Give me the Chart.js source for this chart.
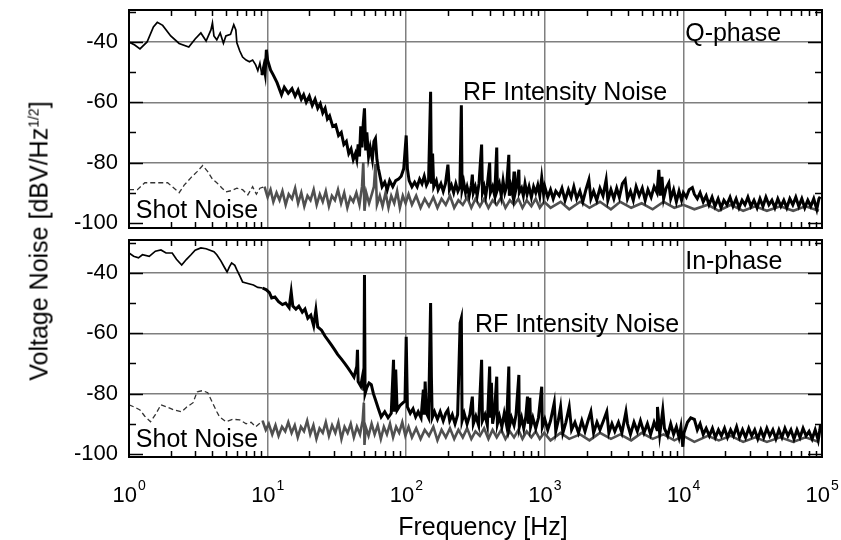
<!DOCTYPE html>
<html>
<head>
<meta charset="utf-8">
<script src="https://cdn.jsdelivr.net/npm/chart.js@4.4.1/dist/chart.umd.min.js"></script>
<style>
  body { margin: 0; background: #fff; }
  #wrap { position: relative; width: 841px; height: 540px; overflow: hidden; font-family: "Liberation Sans", Arial, sans-serif; }
  canvas { position: absolute; left: 0; }
  #top { top: 0; }
  #bottom { top: 234px; }
  .title { position: absolute; white-space: nowrap; font-size: 25px; color: #000; transform: translate(-50%, -50%); }
  #ytitle { left: 39px; top: 241px; transform: translate(-50%, -50%) rotate(-90deg); }
  #ytitle sup { font-size: 14px; }
  #xtitle { left: 483px; top: 526px; }
</style>
</head>
<body>
<div id="wrap">
  <canvas id="top" width="841" height="234"></canvas>
  <canvas id="bottom" width="841" height="306"></canvas>
  <div class="title" id="ytitle">Voltage Noise [dBV/Hz<sup>1/2</sup>]</div>
  <div class="title" id="xtitle">Frequency [Hz]</div>
</div>
<script>
// tick values
const decades = [1, 10, 100, 1000, 10000, 100000];
const decadeExp = ['0', '1', '2', '3', '4', '5'];
const dbTicks = [-100, -80, -60, -40];

// Q-phase: RF intensity noise [Hz, dB]
const qNoise = [
  [1,-40],[1.1,-41],[1.2,-42.3],[1.35,-40],[1.5,-35],[1.6,-33.5],[1.75,-34.5],[2,-38],[2.3,-40.5],[2.7,-41.7],
  [3,-39],[3.3,-37],[3.6,-39.7],[3.9,-36],[4,-33.7],[4.1,-38],[4.3,-39.3],[4.55,-37],[4.8,-40.4],[5,-38],
  [5.4,-37.5],[5.7,-34.3],[5.9,-36],[6,-40.3],[6.3,-43],[6.6,-45],[7,-46],[7.4,-46.6],[7.8,-46],[8.2,-47.6],
  [8.5,-49.5],[8.8,-47],[9.1,-51],[9.4,-48],[9.6,-50.5],[9.8,-42.6],[10,-46],[10.5,-49.3],[11,-51],[11.7,-53.5],
  [12.6,-57.5],[13.2,-55],[14.1,-57],[15,-55.5],[15.8,-58],[16.6,-56],[17.5,-59],[18.2,-57.5],[19,-60],[20,-58],
  [21,-61],[22,-59],[23,-62],[24,-60.5],[25,-63.5],[26,-62],[27,-65.5],[28,-64.5],[29.5,-68],[31,-67.5],
  [32.5,-71],[34,-70],[35.5,-74],[37,-73],[38.5,-77],[40,-75.5],[41.5,-79],[43,-77],[44,-79],[45,-74],
  [46,-78],[47,-68],[48,-75],[49,-67],[50,-62],[51,-76],[52,-70],[53.5,-78],[55,-75],[57,-79],
  [58.5,-73],[60,-72],[61.5,-79],[63,-82],[65,-85],[67,-88],[70,-86.5],[73,-89],[76,-86],[80,-88],
  [84,-86],[88,-85.5],[92,-84.5],[96,-82],[100,-71],[102,-82],[105,-86],[110,-88],[115,-86.5],[120,-88],
  [125,-85.5],[130,-87],[135,-84.5],[140,-87.5],[145,-86],[150,-56.5],[152,-87],[155,-77],[158,-88],[165,-86],
  [170,-89],[178,-87],[185,-89.5],[192,-87],[200,-80.7],[205,-89],[212,-87.5],[220,-90],[228,-87],[236,-89.5],
  [244,-88],[250,-61],[253,-89],[260,-86.5],[268,-90],[275,-88],[285,-91],[295,-87.5],[300,-84],[305,-90],
  [315,-88],[325,-91],[335,-87],[350,-74],[355,-90],[365,-88],[375,-91],[385,-87.5],[400,-80],[405,-90],
  [420,-88],[435,-91],[450,-75],[455,-89],[470,-87],[485,-91],[500,-86],[515,-90],[530,-88],[550,-77.4],
  [555,-91],[570,-88],[585,-90.5],[600,-83],[605,-91],[625,-88],[650,-82.4],[655,-90],[680,-88.5],[700,-91],
  [720,-87],[745,-90.5],[770,-88],[800,-91.5],[830,-88],[860,-90],[890,-87.5],[920,-91],[950,-85],[980,-90.5],
  [1000,-88],[1050,-91.5],[1100,-89],[1150,-92],[1200,-89.5],[1270,-91],[1330,-88.5],[1400,-92.5],[1480,-89],[1550,-91.5],
  [1620,-88],[1700,-92],[1790,-89.5],[1880,-93],[1980,-89],[2080,-85.7],[2150,-92],[2250,-89.5],[2370,-92.5],[2500,-88.5],
  [2630,-91],[2770,-85.7],[2850,-92.5],[3000,-89],[3150,-92],[3300,-88.5],[3450,-91.5],[3630,-87],[3800,-85.7],[3950,-92],
  [4150,-89.5],[4350,-92.5],[4560,-88],[4800,-91],[5050,-88.5],[5300,-92.5],[5550,-89],[5850,-91.5],[6150,-88],[6450,-90],
  [6650,-82.4],[6800,-91],[7000,-84.7],[7200,-92],[7500,-88.5],[7850,-86.7],[8100,-92],[8500,-89],[8900,-93],[9300,-89.5],
  [9700,-92.5],[10000,-90],[10500,-91.5],[11000,-89],[11600,-88.3],[12000,-90.5],[12600,-92],[13200,-90],[13900,-93],[14600,-91],
  [15300,-94],[16100,-91.5],[16900,-94.5],[17800,-92],[18700,-95],[19600,-92.5],[20600,-94],[21700,-91.5],[22800,-94.5],[24000,-92],
  [25200,-95],[26500,-92.5],[27800,-94],[29200,-91.5],[30700,-94.5],[32300,-92.5],[34000,-95],[35700,-92],[37500,-94.5],[39400,-91.5],
  [41400,-94],[43500,-92.5],[45700,-95],[48000,-92],[50500,-94.5],[53000,-92.5],[55700,-95],[58600,-92],[61600,-94],[64700,-91.5],
  [68000,-94.5],[71500,-92],[75100,-95],[79000,-92.5],[83000,-94.5],[87200,-92],[91700,-95.5],[95000,-92],[97000,-91.3]
];

// Q-phase: shot noise, low-frequency dashed part and noisy part [Hz, dB]
const qShotLow = [
  [1,-89],[1.15,-89],[1.3,-86.7],[1.6,-86.7],[1.9,-86.7],[2.05,-88],[2.3,-90],[2.5,-87.5],[2.8,-85],[3.1,-83],
  [3.4,-81],[3.7,-83],[4,-85.5],[4.3,-86.7],[4.7,-88.5],[5,-89.7],[5.5,-89.3],[6,-88.5],[6.6,-89],[7.2,-90.7],
  [7.8,-88],[8.3,-90.5],[8.8,-88.5],[9.5,-88]
];
const qShot = [
  [9.5,-88],[10,-91.5],[10.5,-89],[11,-93],[11.6,-90],[12.2,-92.5],[12.8,-89.5],[13.5,-94],[14.2,-90.5],[15,-92],
  [15.8,-88.5],[16.6,-93.5],[17.5,-90],[18.4,-94.5],[19.4,-91],[20.4,-92.5],[21.5,-89],[22.6,-94],[23.8,-90.5],[25,-93],
  [26.3,-89.5],[27.7,-94.5],[29.1,-91],[30.6,-92.5],[32.2,-89],[33.9,-93.5],[35.7,-90],[37.6,-95],[39.5,-91.5],[41.5,-93],
  [43.7,-90],[46,-94],[48,-88],[49,-80],[50,-96],[51.5,-90],[54,-93.5],[56.5,-90.5],[58.5,-88],[60,-80.5],
  [61.5,-94],[64.5,-91],[67.5,-94.5],[71,-90],[74.5,-95],[78,-91],[82,-93.5],[86,-89.5],[90,-95],[94.5,-91],
  [99,-93.5],[104,-90.5],[110,-94],[118,-91],[127,-95],[136,-92],[146,-94.5],[157,-91.5],[168,-95],[180,-92],
  [193,-94],[207,-91],[222,-95],[238,-92.5],[256,-94],[275,-91.5],[295,-95],[316,-92],[340,-94.5],[365,-92],
  [392,-95],[420,-92.5],[450,-94],[485,-91.5],[520,-95],[560,-92.5],[600,-94],[645,-92],[690,-95],[740,-92.5],
  [800,-94.5],[860,-92],[920,-95],[990,-93],[1100,-95],[1300,-93],[1500,-95.5],[1800,-93],[2100,-95],[2500,-93],
  [3000,-95.5],[3500,-93],[4200,-95],[5000,-93.5],[6000,-95.5],[7200,-93],[8600,-95],[10000,-94],[12000,-95.5],[15000,-94],
  [18000,-96],[22000,-94],[27000,-96],[33000,-94.5],[40000,-96],[50000,-94.5],[62000,-96],[76000,-94.5],[95000,-96]
];

// In-phase: RF intensity noise [Hz, dB]
const iNoise = [
  [1,-33.4],[1.08,-34.5],[1.17,-35],[1.25,-34],[1.4,-34.5],[1.55,-32.8],[1.7,-32.4],[1.85,-33.4],[2.05,-33.4],[2.2,-35.5],
  [2.4,-37.4],[2.6,-35.5],[2.8,-34],[3,-32.5],[3.3,-31.7],[3.6,-32],[3.8,-32.4],[4.1,-33],[4.3,-34],[4.6,-36],
  [4.9,-38.3],[5.1,-39.7],[5.3,-38],[5.5,-36.7],[5.8,-37.5],[6,-39],[6.3,-41],[6.6,-43],[7.2,-43.5],[7.9,-44],
  [8.5,-44.8],[9.2,-45],[9.8,-45.6],[10.3,-46.5],[10.7,-48.3],[11.3,-48],[12,-49.5],[12.8,-50.5],[13.5,-50],[14.3,-51.5],
  [14.8,-46.3],[15.2,-51],[16,-52],[16.8,-51],[17.8,-53],[18.6,-52],[19.5,-55],[20.5,-54],[21.5,-57.5],[22.3,-52.3],
  [23,-57.9],[24.5,-59],[26,-61],[27.5,-62.5],[29,-64],[30.5,-65.5],[32,-67],[34,-68.5],[36,-70],[38,-71.5],
  [40,-73],[42,-74.5],[44,-71],[44.5,-65.5],[45,-76],[47,-77.5],[48.5,-74],[49.5,-79],[50,-40.7],[50.5,-80],
  [52,-78],[54,-76.5],[56,-77],[58,-80],[60,-82],[63,-85],[66,-87.7],[70,-86],[74,-88],[78,-86.5],
  [81,-68.8],[82,-86],[84,-72],[86,-85.5],[90,-84],[95,-83],[98,-82.5],[100,-61.2],[102,-84.4],[107,-86.5],
  [112,-85],[117,-87.7],[122,-86],[128,-88],[133,-78.7],[135,-87],[137,-76],[140,-86.5],[145,-88],[150,-50],
  [152,-74.4],[154,-88],[160,-86],[168,-88.5],[176,-86],[185,-89],[193,-86.5],[200,-85.4],[206,-89],[215,-87],
  [225,-90],[235,-87],[245,-56.6],[250,-55],[253,-89],[262,-86.5],[275,-90],[288,-87],[300,-81],[305,-90],
  [318,-87.5],[333,-90.5],[350,-68.8],[355,-89],[370,-87],[385,-90.5],[400,-71],[405,-88],[412,-76.4],[420,-90],
  [433,-86.5],[450,-74.4],[455,-90],[470,-87.5],[490,-91],[510,-86.5],[530,-90.5],[550,-71],[555,-91],[575,-88],
  [600,-90.5],[620,-87],[650,-73.8],[655,-91],[680,-88],[705,-91.5],[730,-87.5],[750,-81],[760,-90],[780,-81.4],
  [790,-91],[820,-88],[860,-91.5],[900,-88],[950,-77.7],[960,-91],[1000,-88.5],[1050,-92],[1100,-89],[1170,-83],
  [1200,-92.5],[1250,-89],[1300,-84.4],[1350,-93],[1420,-89.5],[1500,-84.4],[1560,-92],[1650,-89.5],[1750,-93],[1850,-89],
  [1950,-92.5],[2050,-89],[2150,-86],[2250,-93],[2380,-89.5],[2500,-92],[2650,-89],[2800,-86],[2900,-93],[3050,-90],
  [3200,-92.5],[3400,-89.5],[3600,-93],[3850,-86],[3950,-90],[4150,-93.5],[4400,-89.5],[4650,-92.5],[4900,-89],[5200,-93],
  [5500,-90],[5800,-93.5],[6150,-89.5],[6450,-92],[6500,-84.4],[6750,-93.5],[7100,-85.4],[7300,-91.5],[7700,-94],[8100,-90],
  [8500,-93.5],[8900,-91],[9300,-94.5],[9600,-91],[9900,-97.6],[10100,-93],[10700,-89.5],[11300,-88],[12000,-88.5],[12600,-92],
  [13200,-90],[13900,-93.5],[14600,-91.5],[15400,-94],[16200,-91.5],[17000,-94.5],[17900,-92],[18800,-94],[19800,-91.5],[20800,-94.5],
  [21900,-92],[23000,-94],[24200,-91],[25400,-94.5],[26700,-92],[28100,-94.5],[29600,-91.5],[31100,-94],[32700,-92],[34400,-95],
  [36200,-92],[38000,-94.5],[40000,-91.5],[42000,-94],[44200,-92],[46500,-95],[48900,-92],[51400,-94.5],[54000,-91.5],[56800,-94],
  [59700,-92],[62800,-95],[66000,-92],[69400,-94.5],[73000,-91.5],[76800,-94],[80700,-92.5],[84900,-95],[89300,-92],[93900,-95.5],
  [96500,-92],[97500,-90.3]
];

// In-phase: shot noise [Hz, dB]
const iShotLow = [
  [1,-83.7],[1.1,-84.5],[1.2,-85.4],[1.3,-87.5],[1.43,-89.3],[1.55,-87],[1.7,-83.7],[1.9,-84.5],[2.1,-85.4],[2.4,-86],
  [2.6,-84.5],[2.9,-83],[3.1,-79.4],[3.4,-79],[3.7,-79.7],[4,-83],[4.3,-86],[4.5,-87.7],[5,-89.3],[5.6,-88.5],
  [6.3,-88.7],[7,-90],[7.6,-89.5],[8.2,-91],[9.2,-89]
];
const iShot = [
  [9.2,-89],[9.7,-92],[10.2,-90],[10.8,-93.5],[11.4,-90.5],[12,-94],[12.7,-91],[13.4,-92.5],[14.1,-89.5],[14.9,-93],
  [15.7,-90.5],[16.5,-94.5],[17.4,-91],[18.3,-92.5],[19.3,-89],[20.3,-93.5],[21.4,-90.5],[22.5,-95],[23.7,-91.5],[25,-93],
  [26.3,-89.5],[27.7,-94],[29.2,-90.5],[30.8,-93],[32.4,-89.5],[34.1,-95],[35.9,-91],[37.8,-93],[39.8,-90],[41.9,-94.5],
  [44.1,-91],[46.4,-93.5],[48.5,-89],[49.5,-83],[50,-97],[51,-91],[53.5,-94],[56.3,-90],[59.2,-93.5],[62.3,-90.5],
  [65.6,-95],[69,-91],[72.6,-93.5],[76.4,-90],[80.4,-94.5],[84.6,-91],[89,-93],[93.7,-89.5],[98.6,-94],[104,-91],
  [110,-94.5],[118,-91.5],[127,-95],[136,-92],[146,-94],[157,-91],[168,-95.5],[180,-92],[193,-94.5],[207,-91.5],
  [222,-95],[238,-92],[256,-94.5],[275,-91.5],[295,-95],[316,-92.5],[340,-94],[365,-91.5],[392,-95],[420,-92],
  [450,-94.5],[485,-92],[520,-95],[560,-92.5],[600,-94.5],[645,-92],[690,-95],[740,-92.5],[800,-94.5],[860,-92.5],
  [920,-95],[990,-93],[1100,-95.5],[1300,-93],[1500,-95],[1800,-93.5],[2100,-95.5],[2500,-93],[3000,-95],[3500,-93.5],
  [4200,-95.5],[5000,-93],[6000,-95],[7200,-93.5],[8600,-95.5],[10000,-94],[12000,-96],[15000,-94],[18000,-95.5],[22000,-94],
  [27000,-96],[33000,-94.5],[40000,-96],[50000,-94.5],[62000,-96],[76000,-94.5],[95000,-96]
];

// text labels [text, Hz, dB]
const qLabels = [['Q-phase', 10300, -39.7], ['RF Intensity Noise', 257, -59.2], ['Shot Noise', 1.12, -98.3]];
const iLabels = [['In-phase', 10300, -38.7], ['RF Intensity Noise', 313, -59.5], ['Shot Noise', 1.12, -97.6]];

const FONT = '"Liberation Sans", Arial, sans-serif';
const GRID = '#7f7f7f';

function toXY(pairs) {
  return pairs.map(p => ({ x: p[0], y: p[1] }));
}

// box, inward ticks, annotations and decade labels
const framePlugin = {
  id: 'frame',
  afterDatasetsDraw(chart, args, opts) {
    const { ctx, chartArea: a, scales: { x, y } } = chart;
    ctx.save();
    ctx.strokeStyle = '#000';
    ctx.lineWidth = 1.5;
    ctx.beginPath();
    for (let d = 1; d < 1e5; d *= 10) {
      for (let m = 2; m <= 9; m++) {
        const px = Math.round(x.getPixelForValue(d * m)) + 0.5;
        ctx.moveTo(px, a.top); ctx.lineTo(px, a.top + 6);
        ctx.moveTo(px, a.bottom); ctx.lineTo(px, a.bottom - 6);
      }
    }
    for (let v = -100; v <= -30; v += 10) {
      const py = Math.round(y.getPixelForValue(v)) + 0.5;
      const len = v % 20 === 0 ? 14 : 7;
      ctx.moveTo(a.left, py); ctx.lineTo(a.left + len, py);
      ctx.moveTo(a.right, py); ctx.lineTo(a.right - len, py);
    }
    ctx.stroke();
    ctx.lineWidth = 2;
    ctx.strokeRect(a.left, a.top, a.right - a.left, a.bottom - a.top);

    ctx.fillStyle = '#000';
    ctx.textBaseline = 'alphabetic';
    ctx.textAlign = 'left';
    ctx.font = '25px ' + FONT;
    opts.labels.forEach(([t, f, db]) => {
      ctx.fillText(t, x.getPixelForValue(f), y.getPixelForValue(db));
    });

    if (opts.decadeLabels) {
      decades.forEach((d, i) => {
        const px = x.getPixelForValue(d);
        ctx.font = '22px ' + FONT;
        ctx.textAlign = 'right';
        ctx.fillText('10', px + 8, a.bottom + 45);
        ctx.font = '14px ' + FONT;
        ctx.textAlign = 'left';
        ctx.fillText(decadeExp[i], px + 9, a.bottom + 33);
      });
    }
    ctx.restore();
  }
};

// thin trace at the smooth low end, heavier where the spectrum is noisy
const noiseWidth = c => (c.p0.parsed.x < 9 ? 1.7 : 3);

function makePanel(id, noise, shotLow, shot, labels, yMin, yMax, bottomPanel) {
  const ctx = document.getElementById(id).getContext('2d');
  return new Chart(ctx, {
    type: 'line',
    data: {
      datasets: [
        { data: toXY(noise), borderColor: '#000', borderWidth: 3, segment: { borderWidth: noiseWidth } },
        { data: toXY(shot), borderColor: '#505050', borderWidth: 2.6 },
        { data: toXY(shotLow), borderColor: '#333', borderWidth: 1.3, borderDash: [5, 3] }
      ]
    },
    options: {
      responsive: false,
      animation: false,
      events: [],
      elements: { point: { radius: 0 }, line: { tension: 0, borderJoinStyle: 'miter' } },
      layout: { padding: bottomPanel ? { top: 6, right: 19, bottom: 0, left: 0 } : { top: 10, right: 19, bottom: 6, left: 0 } },
      plugins: {
        legend: { display: false },
        tooltip: { enabled: false },
        frame: { labels: labels, decadeLabels: bottomPanel }
      },
      scales: {
        x: {
          type: 'logarithmic',
          min: 1,
          max: 1e5,
          afterBuildTicks: s => { s.ticks = decades.map(v => ({ value: v })); },
          afterFit: s => {
            s.height = bottomPanel ? 83 : 0;
            s.paddingLeft = 0; s.paddingRight = 0;
          },
          ticks: { display: false },
          grid: { color: GRID, lineWidth: 1.5, drawTicks: false },
          border: { display: false }
        },
        y: {
          min: yMin,
          max: yMax,
          afterBuildTicks: s => { s.ticks = dbTicks.map(v => ({ value: v })); },
          afterFit: s => {
            s.width = 129;
            s.paddingTop = 0; s.paddingBottom = 0;
          },
          ticks: { color: '#000', font: { family: FONT, size: 22 }, padding: 11 },
          grid: {
            color: c => (c.tick && c.tick.value === -100 ? 'rgba(0,0,0,0)' : GRID),
            lineWidth: 1.5,
            drawTicks: false
          },
          border: { display: false }
        }
      }
    },
    plugins: [framePlugin]
  });
}

makePanel('top', qNoise, qShotLow, qShot, qLabels, -101.7, -29.4, false);
makePanel('bottom', iNoise, iShotLow, iShot, iLabels, -101, -29.1, true);
</script>
</body>
</html>
